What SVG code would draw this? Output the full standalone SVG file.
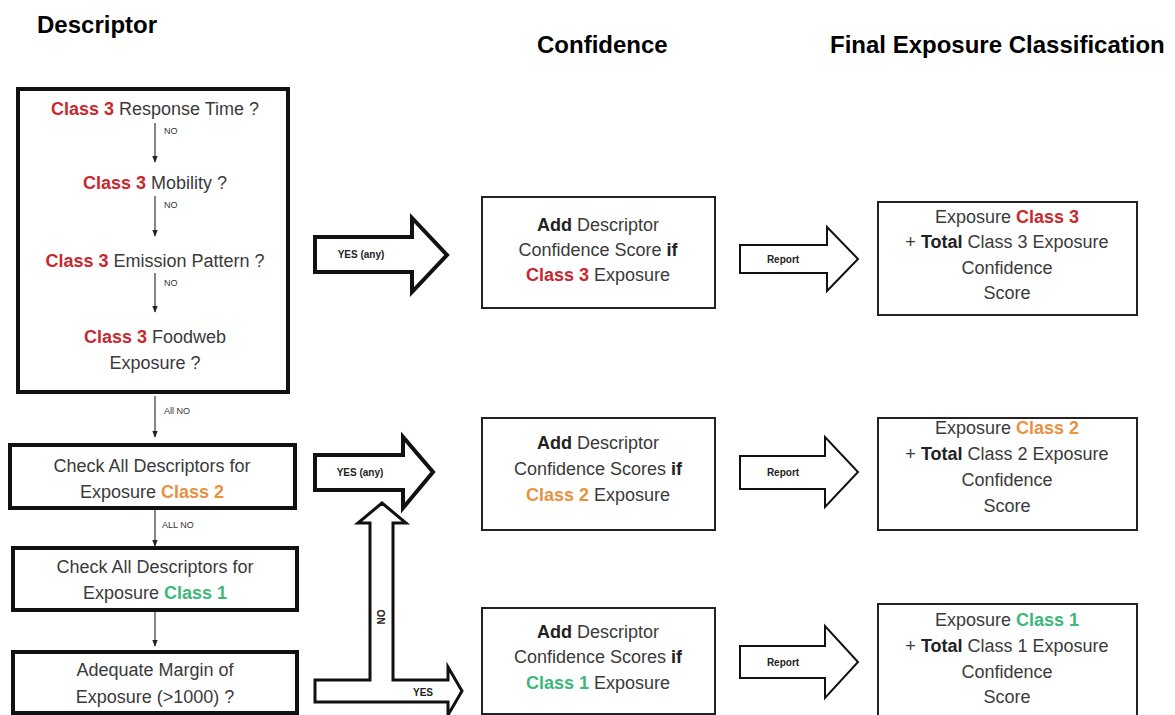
<svg xmlns="http://www.w3.org/2000/svg" width="1175" height="715" viewBox="0 0 1175 715">
<defs>
<style>
text{font-family:"Liberation Sans",Arial,sans-serif;fill:#3a3a3a;}
.hdr{font-size:24px;font-weight:bold;fill:#000;}
.t{font-size:18px;text-anchor:middle;}
.c3{fill:#c8282e;font-weight:bold;}
.c2{fill:#e8913f;font-weight:bold;}
.c1{fill:#3cb878;font-weight:bold;}
.b{font-weight:bold;fill:#222;}
.sm{font-size:9px;fill:#333;}
.lbl{font-size:10px;font-weight:bold;fill:#222;text-anchor:middle;}
.thick{fill:#fff;stroke:#111;stroke-width:4;}
.thin{fill:#fff;stroke:#222;stroke-width:2;}
.big{fill:#fff;stroke:#111;stroke-width:4;stroke-linejoin:miter;}
.rep{fill:#fff;stroke:#111;stroke-width:2;stroke-linejoin:miter;}
.ln{stroke:#333;stroke-width:1.2;fill:none;marker-end:url(#ah);}
</style>
<marker id="ah" viewBox="0 0 10 10" refX="9" refY="5" markerWidth="6" markerHeight="6" orient="auto">
<path d="M0,1 L10,5 L0,9 z" fill="#222"/>
</marker>
</defs>

<g id="headers">
<text class="hdr" x="37" y="33">Descriptor</text>
<text class="hdr" x="537" y="53">Confidence</text>
<text class="hdr" x="830" y="53">Final Exposure Classification</text>
</g>

<g id="class3-descriptors">
<rect class="thick" x="18" y="89" width="270" height="303"/>
<text class="t" x="155" y="115"><tspan class="c3">Class 3</tspan> Response Time ?</text>
<text class="t" x="155" y="189"><tspan class="c3">Class 3</tspan> Mobility ?</text>
<text class="t" x="155" y="267"><tspan class="c3">Class 3</tspan> Emission Pattern ?</text>
<text class="t" x="155" y="343"><tspan class="c3">Class 3</tspan> Foodweb</text>
<text class="t" x="155" y="369">Exposure ?</text>
</g>

<g id="check-class2">
<rect class="thick" x="10" y="445" width="285" height="63"/>
<text class="t" x="152" y="472">Check All Descriptors for</text>
<text class="t" x="152" y="498">Exposure <tspan class="c2">Class 2</tspan></text>
</g>

<g id="check-class1">
<rect class="thick" x="13" y="548" width="284" height="62"/>
<text class="t" x="155" y="573">Check All Descriptors for</text>
<text class="t" x="155" y="599">Exposure <tspan class="c1">Class 1</tspan></text>
</g>

<g id="margin">
<rect class="thick" x="13" y="652" width="284" height="61"/>
<text class="t" x="155" y="676">Adequate Margin of</text>
<text class="t" x="155" y="703">Exposure (&gt;1000) ?</text>
</g>

<g id="conf3">
<rect class="thin" x="482" y="197" width="233" height="111"/>
<text class="t" x="598" y="231"><tspan class="b">Add</tspan> Descriptor</text>
<text class="t" x="598" y="256">Confidence Score <tspan class="b">if</tspan></text>
<text class="t" x="598" y="281"><tspan class="c3">Class 3</tspan> Exposure</text>
</g>

<g id="conf2">
<rect class="thin" x="482" y="418" width="233" height="112"/>
<text class="t" x="598" y="449"><tspan class="b">Add</tspan> Descriptor</text>
<text class="t" x="598" y="475">Confidence Scores <tspan class="b">if</tspan></text>
<text class="t" x="598" y="501"><tspan class="c2">Class 2</tspan> Exposure</text>
</g>

<g id="conf1">
<rect class="thin" x="482" y="608" width="233" height="106"/>
<text class="t" x="598" y="638"><tspan class="b">Add</tspan> Descriptor</text>
<text class="t" x="598" y="663">Confidence Scores <tspan class="b">if</tspan></text>
<text class="t" x="598" y="689"><tspan class="c1">Class 1</tspan> Exposure</text>
</g>

<g id="final3">
<rect class="thin" x="878" y="202" width="259" height="113"/>
<text class="t" x="1007" y="223">Exposure <tspan class="c3">Class 3</tspan></text>
<text class="t" x="1007" y="248">+ <tspan class="b">Total</tspan> Class 3 Exposure</text>
<text class="t" x="1007" y="274">Confidence</text>
<text class="t" x="1007" y="299">Score</text>
</g>

<g id="final2">
<rect class="thin" x="878" y="418" width="259" height="112"/>
<text class="t" x="1007" y="434">Exposure <tspan class="c2">Class 2</tspan></text>
<text class="t" x="1007" y="460">+ <tspan class="b">Total</tspan> Class 2 Exposure</text>
<text class="t" x="1007" y="486">Confidence</text>
<text class="t" x="1007" y="512">Score</text>
</g>

<g id="final1">
<rect class="thin" x="878" y="604" width="259" height="113"/>
<text class="t" x="1007" y="626">Exposure <tspan class="c1">Class 1</tspan></text>
<text class="t" x="1007" y="652">+ <tspan class="b">Total</tspan> Class 1 Exposure</text>
<text class="t" x="1007" y="678">Confidence</text>
<text class="t" x="1007" y="703">Score</text>
</g>

<g id="connectors">
<line class="ln" x1="155" y1="123" x2="155" y2="162"/>
<text class="sm" x="164" y="134">NO</text>
<line class="ln" x1="155" y1="196" x2="155" y2="236"/>
<text class="sm" x="164" y="208">NO</text>
<line class="ln" x1="155" y1="273" x2="155" y2="312"/>
<text class="sm" x="164" y="286">NO</text>
<line class="ln" x1="155" y1="396" x2="155" y2="437"/>
<text class="sm" x="164" y="414">All NO</text>
<line class="ln" x1="155" y1="510" x2="155" y2="546"/>
<text class="sm" x="162" y="528">ALL NO</text>
<line class="ln" x1="155" y1="612" x2="155" y2="646"/>

<polygon class="big" points="315,237 412,237 412,218 447,255 412,292 412,272 315,272"/>
<text class="lbl" x="361" y="258">YES (any)</text>

<polygon class="big" points="315,455 403,455 403,437 433,472 403,508 403,490 315,490"/>
<text class="lbl" x="360" y="476">YES (any)</text>

<polygon class="big" style="stroke-width:3" points="315,680 370,680 370,523 358,523 382,503 406,523 393,523 393,680 448,680 448,667 462,691 448,715 448,702 315,702"/>
<text class="lbl" transform="translate(385,617) rotate(-90)">NO</text>
<text class="lbl" x="423" y="696">YES</text>

<polygon class="rep" points="740,245 827,245 827,227 858,259 827,291 827,273 740,273"/>
<text class="lbl" x="783" y="263">Report</text>
<polygon class="rep" points="740,456 825,456 825,437 858,472 825,507 825,489 740,489"/>
<text class="lbl" x="783" y="476">Report</text>
<polygon class="rep" points="740,646 825,646 825,626 858,662 825,698 825,678 740,678"/>
<text class="lbl" x="783" y="666">Report</text>
</g>
</svg>
